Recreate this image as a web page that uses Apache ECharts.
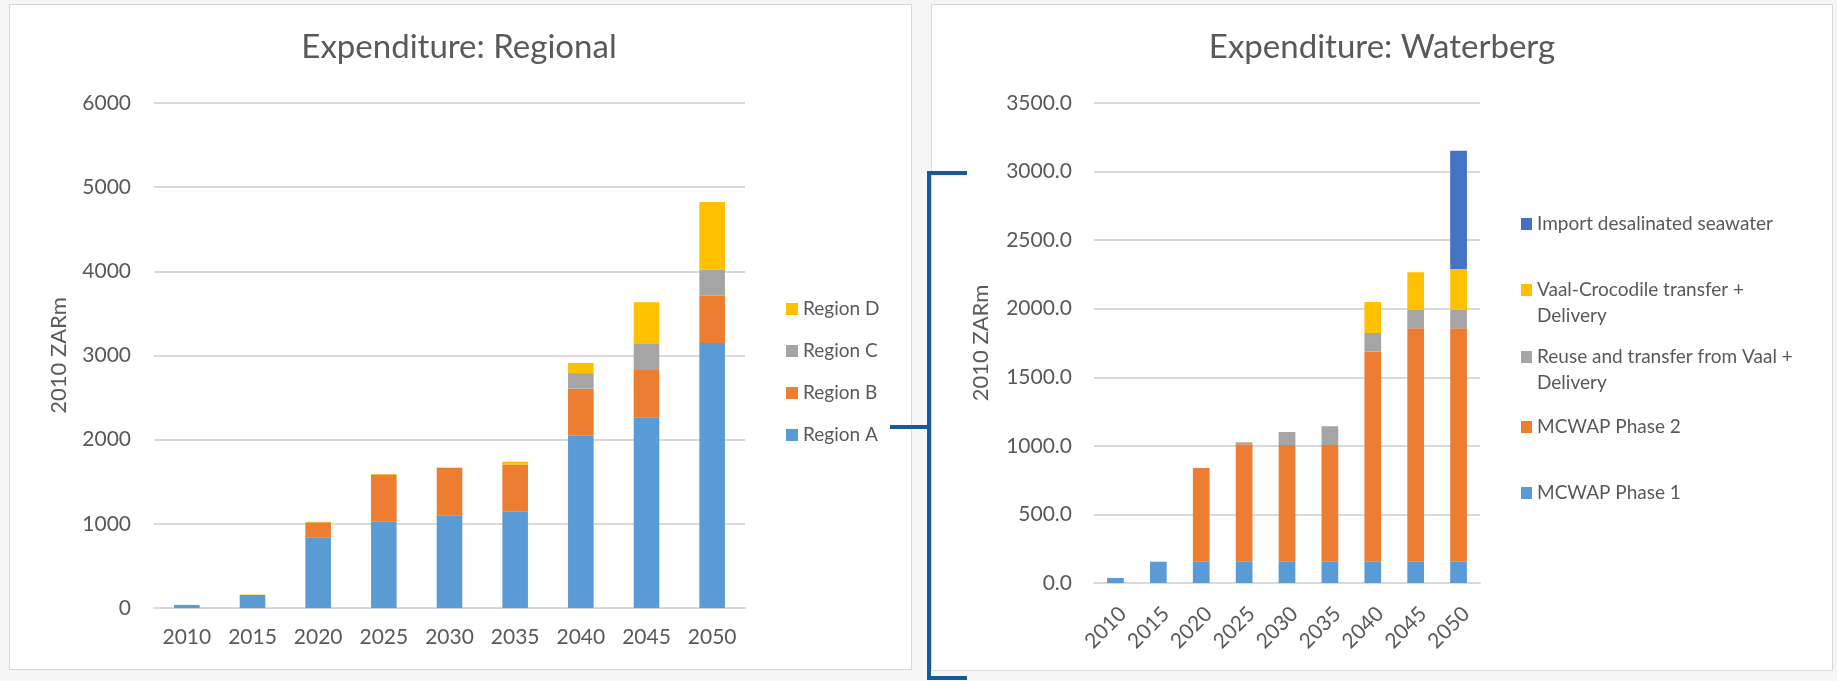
<!DOCTYPE html>
<html><head><meta charset="utf-8">
<script src="https://cdn.jsdelivr.net/npm/echarts@6/dist/echarts.min.js"></script>
<style>
html,body{margin:0;padding:0;width:1837px;height:681px;background:#f6f6f6;overflow:hidden}
.panel{position:absolute;background:#fff;border:1.5px solid #d9d9d9;box-sizing:border-box}
#chart{position:absolute;left:0;top:0;width:1837px;height:681px}
</style></head><body>
<div class="panel" style="left:9px;top:4px;width:903px;height:666px"></div>
<div class="panel" style="left:931px;top:4px;width:902px;height:667px"></div>
<div id="chart"></div>
<script>
// ---- data ----
const years = ['2010','2015','2020','2025','2030','2035','2040','2045','2050'];
const regionA = [37, 155, 840, 1030, 1101, 1144, 2048, 2265, 3148];
const regionB = [0, 0, 178, 555, 562, 560, 558, 563, 562];
const regionC = [0, 0, 0, 0, 0, 0, 185, 309, 310];
const regionD = [0, 5, 6, 6, 6, 35, 120, 496, 805];

const mcwap1 = [37, 155, 155, 155, 155, 155, 155, 155, 155];
const mcwap2 = [0, 0, 684, 856, 851, 851, 1532, 1702, 1702];
const reuseVaal = [0, 0, 0, 15, 95, 137, 136, 136, 136];
const vaalCroc = [0, 0, 0, 0, 0, 0, 226, 273, 297];
const importSea = [0, 0, 0, 0, 0, 0, 0, 0, 861];

const regionalNames = ['Region A','Region B','Region C','Region D'];
const waterbergNames = ['MCWAP Phase 1','MCWAP Phase 2','Reuse and transfer from Vaal + Delivery','Vaal-Crocodile transfer + Delivery','Import desalinated seawater'];

const C = {blue:'#5B9BD5', orange:'#ED7D31', gray:'#A5A5A5', gold:'#FFC000', dblue:'#4472C4'};
const FONT = 'Lato';
const TXT = '#595959';
const GRID = '#d9d9d9';

const chart = echarts.init(document.getElementById('chart'), null, {renderer:'canvas'});

function bar(name, data, color, idx){
  return {name, type:'bar', stack:'s'+idx, data, xAxisIndex:idx, yAxisIndex:idx,
    barWidth:'39%', itemStyle:{color}, emphasis:{disabled:true}};
}

const legendText = {fontFamily:FONT, fontSize:19, color:TXT, lineHeight:26};

function wbLegend(name, centerY, twoLine){
  return {data:[name], orient:'vertical', left:1521, top: twoLine ? centerY-39 : centerY-13,
    padding:0, itemWidth:11, itemHeight:12, itemGap:0, icon:'rect',
    selectedMode:false,
    formatter: n => twoLine ? '\n' + n.replace(' + ', ' +\n') : n,
    textStyle:legendText};
}

chart.setOption({
  animation:false,
  textStyle:{fontFamily:FONT},
  title:[
    {text:'Expenditure: Regional', left:459, textAlign:'center', top:31, padding:0,
      textStyle:{fontFamily:FONT, fontSize:33, fontWeight:'normal', color:TXT}},
    {text:'Expenditure: Waterberg', left:1382, textAlign:'center', top:31, padding:0,
      textStyle:{fontFamily:FONT, fontSize:33, fontWeight:'normal', color:TXT}}
  ],
  grid:[
    {left:154, top:103, width:591, height:505, containLabel:false},
    {left:1094, top:103, width:386, height:480, containLabel:false}
  ],
  legend:[
    {data:['Region D','Region C','Region B','Region A'], orient:'vertical', left:786, top:296,
      padding:0, itemWidth:12, itemHeight:12, itemGap:16, icon:'rect', selectedMode:false,
      textStyle:legendText},
    wbLegend('Import desalinated seawater', 224, false),
    wbLegend('Vaal-Crocodile transfer + Delivery', 290, true),
    wbLegend('Reuse and transfer from Vaal + Delivery', 357, true),
    wbLegend('MCWAP Phase 2', 427, false),
    wbLegend('MCWAP Phase 1', 493, false)
  ],
  xAxis:[
    {type:'category', gridIndex:0, data:years,
      axisLine:{show:true, lineStyle:{color:GRID, width:2}}, axisTick:{show:false},
      axisLabel:{fontFamily:FONT, fontSize:21, color:TXT, margin:19}},
    {type:'category', gridIndex:1, data:years,
      axisLine:{show:true, lineStyle:{color:GRID, width:2}}, axisTick:{show:false},
      axisLabel:{fontFamily:FONT, fontSize:21, color:TXT, rotate:45, margin:20, interval:0, verticalAlign:'top'}}
  ],
  yAxis:[
    {type:'value', gridIndex:0, min:0, max:6000, interval:1000,
      name:'2010 ZARm', nameLocation:'middle', nameGap:84,
      nameTextStyle:{fontFamily:FONT, fontSize:22, color:TXT},
      axisLine:{show:false}, axisTick:{show:false},
      axisLabel:{fontFamily:FONT, fontSize:21, color:TXT, margin:23, formatter:v=>String(v)},
      splitLine:{lineStyle:{color:GRID, width:2}}},
    {type:'value', gridIndex:1, min:0, max:3500, interval:500,
      name:'2010 ZARm', nameLocation:'middle', nameGap:102,
      nameTextStyle:{fontFamily:FONT, fontSize:22, color:TXT},
      axisLine:{show:false}, axisTick:{show:false},
      axisLabel:{fontFamily:FONT, fontSize:21, color:TXT, margin:22, formatter:v=>v.toFixed(1)},
      splitLine:{lineStyle:{color:GRID, width:2}}}
  ],
  series:[
    bar(regionalNames[0], regionA, C.blue, 0),
    bar(regionalNames[1], regionB, C.orange, 0),
    bar(regionalNames[2], regionC, C.gray, 0),
    bar(regionalNames[3], regionD, C.gold, 0),
    bar(waterbergNames[0], mcwap1, C.blue, 1),
    bar(waterbergNames[1], mcwap2, C.orange, 1),
    bar(waterbergNames[2], reuseVaal, C.gray, 1),
    bar(waterbergNames[3], vaalCroc, C.gold, 1),
    bar(waterbergNames[4], importSea, C.dblue, 1)
  ],
  graphic:[
    {type:'polyline', z:100, shape:{points:[[890,427],[929,427]]}, style:{stroke:'#165A9C', lineWidth:4, fill:null}},
    {type:'polyline', z:100, shape:{points:[[967,173],[929,173],[929,678],[967,678]]}, style:{stroke:'#165A9C', lineWidth:4, fill:null}}
  ]
});
</script>
</body></html>
